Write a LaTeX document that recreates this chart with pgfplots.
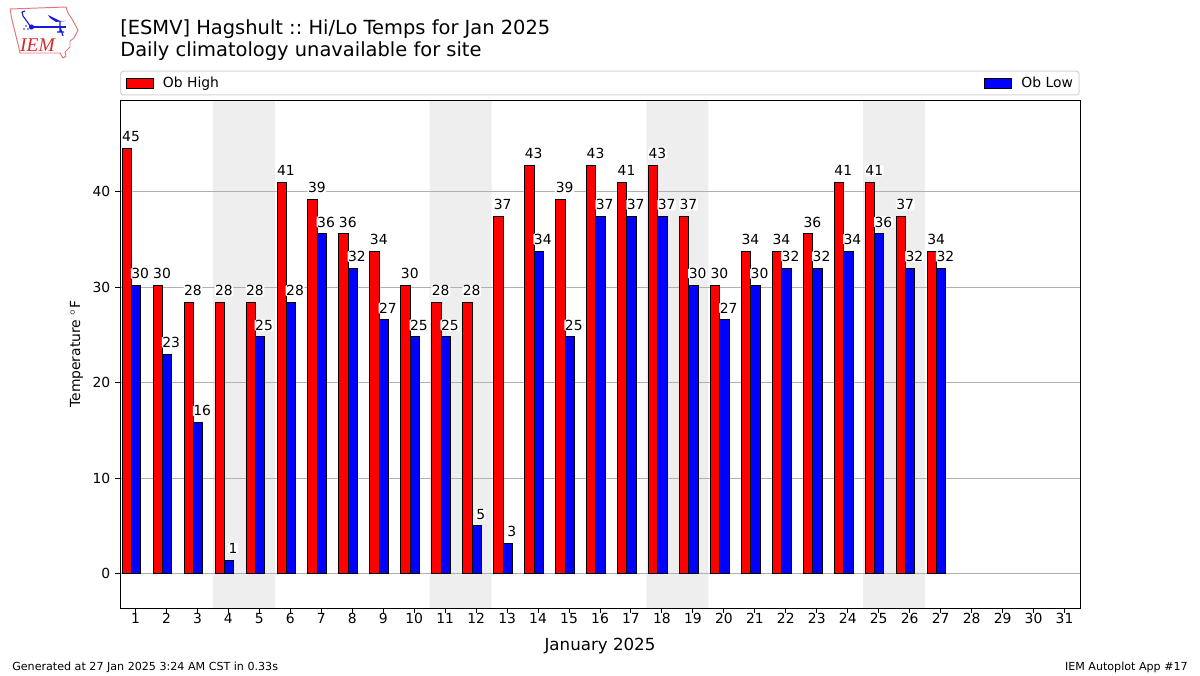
\documentclass[border=0pt]{standalone}
\usepackage{fontspec}
\setmainfont{DejaVu Sans}
\newfontfamily\logofont{Liberation Serif}
\usepackage{pgfplots}
\pgfplotsset{compat=1.18}
\frenchspacing
\definecolor{gridgray}{HTML}{B0B0B0}
\definecolor{bandgray}{HTML}{EEEEEE}
\definecolor{legframe}{HTML}{D5D5D5}
\definecolor{logored}{HTML}{E2787C}
\definecolor{logotext}{HTML}{D42A2A}
\definecolor{logoblue}{HTML}{1A1ADC}
% Fahrenheit values are whole Celsius obs converted
\newcommand{\highs}{(1,44.6)(2,30.2)(3,28.4)(4,28.4)(5,28.4)(6,41)(7,39.2)(8,35.6)(9,33.8)(10,30.2)(11,28.4)(12,28.4)(13,37.4)(14,42.8)(15,39.2)(16,42.8)(17,41)(18,42.8)(19,37.4)(20,30.2)(21,33.8)(22,33.8)(23,35.6)(24,41)(25,41)(26,37.4)(27,33.8)}
\newcommand{\lows}{(1,30.2)(2,23)(3,15.8)(4,1.4)(5,24.8)(6,28.4)(7,35.6)(8,32)(9,26.6)(10,24.8)(11,24.8)(12,5)(13,3.2)(14,33.8)(15,24.8)(16,37.4)(17,37.4)(18,37.4)(19,30.2)(20,26.6)(21,30.2)(22,32)(23,32)(24,33.8)(25,35.6)(26,32)(27,32)}
\pgfplotsset{
  obbar/.style n args={2}{ybar, bar width=0.3, bar shift=#1, draw=black, line width=0.72pt,
    nodes near coords={\pgfmathprintnumber[fixed,precision=0]{\pgfplotspointmeta}},
    every node near coord/.append style={font=\fontsize{10}{12}\selectfont, color=black,
      anchor=south, inner sep=0.4pt, fill=white, rounded corners=1pt, xshift=#2, yshift=4pt}},
  band/.style={on layer=axis background, fill=bandgray, draw=none, forget plot},
}
\begin{document}
\begin{tikzpicture}
\begin{scope}[x=0.72pt,y=-0.72pt,yshift=486pt]
\path[use as bounding box] (0,0) rectangle (1200,675);
% titles and footers
\node[anchor=base west,inner sep=0pt,font=\fontsize{14}{16}\selectfont] at (120,35) {[ESMV] Hagshult :: Hi/Lo Temps for Jan 2025};
\node[anchor=base west,inner sep=0pt,font=\fontsize{14}{16}\selectfont] at (120,57) {Daily climatology unavailable for site};
\node[anchor=base west,inner sep=0pt,font=\fontsize{8}{10}\selectfont] at (12,670) {Generated at 27 Jan 2025 3:24 AM CST in 0.33s};
\node[anchor=base east,inner sep=0pt,font=\fontsize{8}{10}\selectfont] at (1188,670) {IEM Autoplot App \#17};
% logo
\draw[logored,line width=0.7pt,line join=round] (10,9) -- (66,7) -- (68,13) -- (72,19) -- (78,30) -- (74,38) -- (70,41) -- (70,47) -- (65,52) -- (66,56) -- (63,58) -- (60,53) -- (20,53) -- (18,44) -- (15,32) -- (12,20) -- cycle;
\draw[logoblue,line width=1.2pt] (31,27) -- (66,27);
\draw[logoblue,line width=0.8pt] (31,27) -- (23,16) -- (22,12) (22,12) -- (25,11);
\fill[logoblue] (31.5,27) circle (2.6);
\fill[logoblue] (48,15) -- (60,21) -- (66,21) -- (56,22) -- (50,18) -- cycle;
\draw[logoblue,line width=0.8pt] (60,21) -- (60,32) (60,27) -- (63,36) (57,32) -- (64,32);
\fill[logoblue] (24,29) circle (0.8) (26,26) circle (0.8) (28,29) circle (0.8);
\node[anchor=base,inner sep=0pt,logotext,font=\logofont\itshape\fontsize{14}{16}\selectfont] at (37.5,52) {IEM};
\end{scope}
\begin{axis}[
  at={(86.4pt,48.24pt)}, anchor=south west,
  scale only axis, width=691.2pt, height=365.4pt,
  set layers,
  xmin=0.5, xmax=31.5, ymin=-3.61, ymax=49.58,
  xtick={1,...,31}, ytick={0,10,20,30,40},
  tick align=outside, tick pos=left,
  major tick length=3.5pt,
  every tick/.style={black,line width=0.72pt},
  axis line style={black,line width=0.72pt},
  ymajorgrids, grid style={gridgray,line width=0.72pt},
  tick label style={font=\fontsize{10}{12}\selectfont},
  xticklabel style={yshift=3pt},
  /pgf/number format/assume math mode=true,
  xlabel={January 2025}, xlabel style={font=\fontsize{12}{14}\selectfont, yshift=-3pt},
  ylabel={Temperature $^\circ$F}, ylabel style={font=\fontsize{10}{12}\selectfont},
  legend columns=2,
  legend style={at={(axis description cs:0,1)}, anchor=south west, yshift=3.6pt,
    rounded corners=2pt, draw=legframe, line width=0.8pt, font=\fontsize{10}{12}\selectfont,
    inner xsep=2.5pt, inner ysep=2pt,
    /tikz/every even column/.style={column sep=547.7pt}},
  legend image code/.code={\path[draw=none,fill=none] (0pt,0pt) -- (26pt,0pt);
    \draw[#1,sharp corners,line width=0.6pt] (1.5pt,-3.6pt) rectangle (21pt,3.6pt);},
]
% weekend shading
\addplot[band] coordinates {(3.5,-3.61)(5.5,-3.61)(5.5,49.58)(3.5,49.58)} \closedcycle;
\addplot[band] coordinates {(10.5,-3.61)(12.5,-3.61)(12.5,49.58)(10.5,49.58)} \closedcycle;
\addplot[band] coordinates {(17.5,-3.61)(19.5,-3.61)(19.5,49.58)(17.5,49.58)} \closedcycle;
\addplot[band] coordinates {(24.5,-3.61)(26.5,-3.61)(26.5,49.58)(24.5,49.58)} \closedcycle;
\addplot[obbar={-0.28}{-3.2pt}, fill=red] coordinates {\highs};
\addlegendentry{Ob High}
\addplot[obbar={0.02}{3.4pt}, fill=blue] coordinates {\lows};
\addlegendentry{Ob Low}
\end{axis}
\end{tikzpicture}
\end{document}
